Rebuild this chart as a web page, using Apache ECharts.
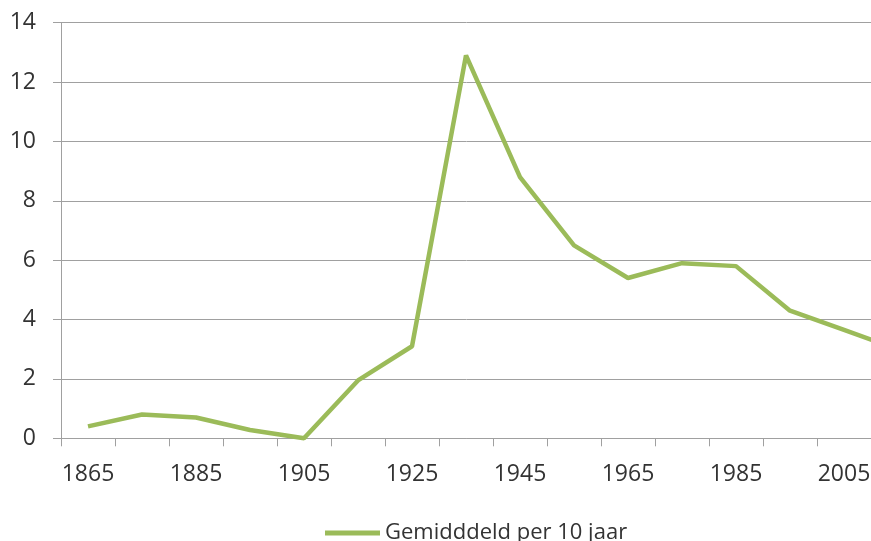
<!DOCTYPE html>
<html>
<head>
<meta charset="utf-8">
<script src="https://cdn.jsdelivr.net/npm/echarts@6/dist/echarts.min.js"></script>
<style>
  html, body { margin: 0; padding: 0; background: #fff; }
  #main { width: 871px; height: 541px; }
</style>
</head>
<body>
<div id="main"></div>
<script>
// decennia (het laatste valt deels buiten beeld)
var years = ['1865', '1875', '1885', '1895', '1905', '1915', '1925', '1935',
  '1945', '1955', '1965', '1975', '1985', '1995', '2005', '2015'];
var gemiddeld = [0.4, 0.8, 0.7, 0.28, 0, 1.95, 3.1, 12.9,
  8.8, 6.5, 5.4, 5.9, 5.8, 4.3, 3.65, 3.0];
var seriesName = 'Gemidddeld per 10 jaar';

var font = '"Open Sans", sans-serif';
var gridColor = '#a0a0a0';

var chart = echarts.init(document.getElementById('main'));
chart.setOption({
  animation: false,
  color: ['#9bbb59'],
  grid: {
    left: 61,
    top: 22.7,
    bottom: 102.7,
    width: 864,
    containLabel: false,
    outerBoundsMode: 'none'
  },
  legend: {
    left: 320,
    top: 516,
    icon: 'rect',
    itemWidth: 55,
    itemHeight: 5,
    itemGap: 20,
    textStyle: { fontFamily: font, fontSize: 22, lineHeight: 24, color: '#333333', padding: [0, 0, 0, 0] },
    data: [seriesName]
  },
  xAxis: {
    type: 'category',
    data: years,
    boundaryGap: true,
    axisLine: { lineStyle: { color: gridColor, width: 1 } },
    axisTick: { show: true, interval: 0, length: 8, lineStyle: { color: gridColor } },
    axisLabel: {
      interval: 1,
      margin: 25,
      fontFamily: font,
      fontSize: 23,
      color: '#333333'
    },
    splitLine: { show: false }
  },
  yAxis: {
    type: 'value',
    min: 0,
    max: 14,
    interval: 2,
    axisLine: { show: true, lineStyle: { color: gridColor, width: 1 } },
    axisTick: { show: true, length: 8, lineStyle: { color: gridColor } },
    axisLabel: {
      margin: 25,
      fontFamily: font,
      fontSize: 23,
      color: '#333333'
    },
    splitLine: { show: true, lineStyle: { color: gridColor, width: 1 } }
  },
  series: [{
    name: seriesName,
    type: 'line',
    data: gemiddeld,
    symbol: 'none',
    clip: false,
    lineStyle: { width: 4.5, color: '#9bbb59' }
  }]
});
</script>
</body>
</html>
